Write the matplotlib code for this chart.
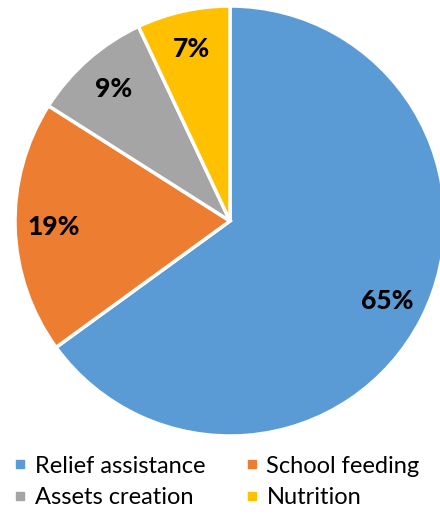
import matplotlib.pyplot as plt

categories = ["Relief assistance", "School feeding", "Assets creation", "Nutrition"]
shares = [65, 19, 9, 7]
colors = ["#5B9BD5", "#ED7D31", "#A5A5A5", "#FFC000"]

plt.rcParams['font.family'] = ['Lato', 'DejaVu Sans']

fig = plt.figure(figsize=(4.4, 5.14), dpi=100)
# pie centre ~ (230, 221) px, radius ~215 px
ax = fig.add_axes([15 / 440, 78 / 514, 430 / 440, 430 / 514])

wedges, texts, autotexts = ax.pie(
    shares, colors=colors, startangle=90, counterclock=False,
    autopct=lambda p: f"{p:.0f}%", pctdistance=0.82, radius=1,
    wedgeprops=dict(edgecolor="white", linewidth=2.5),
    textprops=dict(fontsize=19, fontweight="black", color="black"),
)
ax.set_xlim(-1, 1)
ax.set_ylim(-1, 1)
ax.set_aspect("auto")
for w in wedges:
    w.set_clip_on(False)

handles = [plt.Line2D([], [], marker="s", linestyle="", markersize=6,
                      markerfacecolor=c, markeredgecolor=c) for c in colors]
# legend fills by column, reference reads by row
order = [0, 2, 1, 3]
fig.legend([handles[i] for i in order], [categories[i] for i in order],
           loc="lower left", bbox_to_anchor=(-0.018, -0.03),
           ncol=2, frameon=False, fontsize=17, handlelength=0.6,
           handletextpad=0.3, columnspacing=1.7, labelspacing=0.45)

fig.savefig("out.png", dpi=100)
